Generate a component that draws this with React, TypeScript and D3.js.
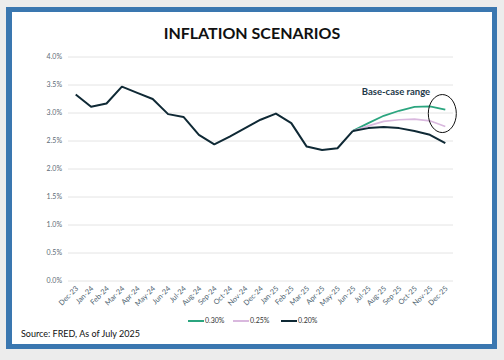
import React from "react";
import { scalePoint, scaleLinear, line } from "d3";

const months = [
  "Dec-23", "Jan-24", "Feb-24", "Mar-24", "Apr-24", "May-24", "Jun-24", "Jul-24", "Aug-24",
  "Sep-24", "Oct-24", "Nov-24", "Dec-24", "Jan-25", "Feb-25", "Mar-25", "Apr-25", "May-25",
  "Jun-25", "Jul-25", "Aug-25", "Sep-25", "Oct-25", "Nov-25", "Dec-25",
];

// actual CPI through Jun-25
const history = [3.33, 3.11, 3.17, 3.47, 3.36, 3.25, 2.98, 2.93, 2.61, 2.44, 2.58, 2.73, 2.88, 2.99, 2.82, 2.4, 2.34, 2.37, 2.68];

// scenarios from Jun-25 onwards
const scenarioMonths = ["Jun-25", "Jul-25", "Aug-25", "Sep-25", "Oct-25", "Nov-25", "Dec-25"];
const scenario030 = [2.68, 2.82, 2.95, 3.04, 3.11, 3.12, 3.06];
const scenario025 = [2.68, 2.77, 2.85, 2.88, 2.89, 2.86, 2.76];
const scenario020 = [2.68, 2.73, 2.75, 2.73, 2.68, 2.61, 2.46];

const yTicks = [0, 0.5, 1, 1.5, 2, 2.5, 3, 3.5, 4];
const legendLabels = ["0.30%", "0.25%", "0.20%"];

const GREEN = "#2ba57f";
const PINK = "#d9b8de";
const DARK = "#0f2935";
const FONT = "Lato, 'Open Sans', sans-serif";

export default function App() {
  const x = scalePoint<string>().domain(months).range([68, 453]).padding(0.5);
  const y = scaleLinear().domain([0, 4]).range([281, 57]);

  const lineFunc = line<[string, number]>()
    .x((d) => x(d[0]) as number)
    .y((d) => y(d[1]));

  const histPts: [string, number][] = history.map((v, i) => [months[i], v]);
  const scen = (vals: number[]): [string, number][] => vals.map((v, i) => [scenarioMonths[i], v]);

  const legend = [
    { label: legendLabels[0], color: GREEN, x: 188 },
    { label: legendLabels[1], color: PINK, x: 233 },
    { label: legendLabels[2], color: DARK, x: 281 },
  ];

  const last = months[months.length - 1];

  return (
    <svg width={504} height={360} style={{ position: "absolute", left: 0, top: 0 }} fontFamily={FONT}>
      <rect x={0} y={0} width={504} height={360} fill="#ececec" />
      <rect x={6} y={7} width={491} height={342} fill="#3a77b0" />
      <rect x={12} y={12} width={480} height={332} fill="#ffffff" />

      <text x={252} y={39} textAnchor="middle" fontSize={16} fontWeight={700} fill="#111">
        INFLATION SCENARIOS
      </text>

      {yTicks.map((t) => (
        <g key={t}>
          <line x1={68} x2={453} y1={y(t)} y2={y(t)} stroke="#e4e4e4" strokeWidth={1} />
          <text x={62} y={y(t)} dy="0.32em" textAnchor="end" fontSize={7} fill="#5d6b76">
            {t.toFixed(1)}%
          </text>
        </g>
      ))}

      {months.map((m) => (
        <text
          key={m}
          transform={`translate(${(x(m) as number) + 3},${289}) rotate(-45)`}
          textAnchor="end"
          fontSize={7.3}
          fill="#4e6370"
        >
          {m}
        </text>
      ))}

      <path d={lineFunc(scen(scenario030)) || ""} fill="none" stroke={GREEN} strokeWidth={1.8} />
      <path d={lineFunc(scen(scenario025)) || ""} fill="none" stroke={PINK} strokeWidth={1.6} />
      <path d={lineFunc(scen(scenario020)) || ""} fill="none" stroke={DARK} strokeWidth={2} strokeLinejoin="round" />
      <path d={lineFunc(histPts) || ""} fill="none" stroke={DARK} strokeWidth={2} strokeLinejoin="round" />

      <ellipse cx={(x(last) as number) - 3} cy={y(2.99)} rx={14} ry={19} fill="none" stroke="#111" strokeWidth={1} />
      <text x={396} y={95} textAnchor="middle" fontSize={9.5} fontWeight={700} fill="#1e3a4a">
        Base-case range
      </text>

      {legend.map((d) => (
        <g key={d.label}>
          <line x1={d.x} x2={d.x + 16} y1={321} y2={321} stroke={d.color} strokeWidth={2} />
          <text x={d.x + 17} y={321} dy="0.35em" fontSize={7} fill="#333">
            {d.label}
          </text>
        </g>
      ))}

      <text x={21} y={337} fontSize={9} fill="#111">
        Source: FRED, As of July 2025
      </text>
    </svg>
  );
}
